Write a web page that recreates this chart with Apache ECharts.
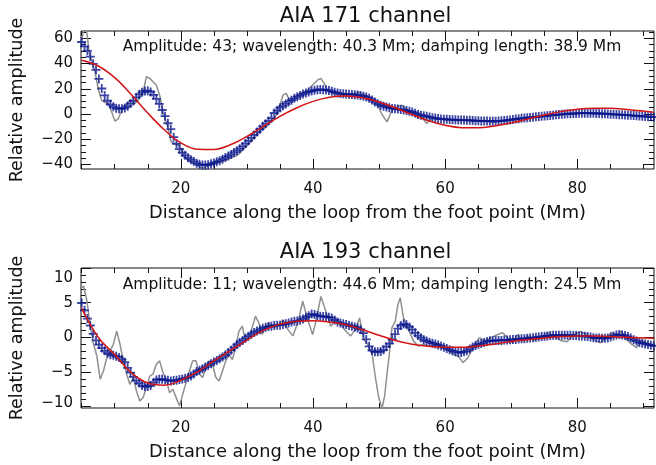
<!DOCTYPE html>
<html><head><meta charset="utf-8">
<script src="https://cdn.jsdelivr.net/npm/echarts@6/dist/echarts.min.js"></script>
<style>html,body{margin:0;padding:0;background:#fff}#c{width:656px;height:465px}</style>
</head><body><div id="c"></div>
<script>
// ---------- texts ----------
const panelTitles = ['AIA 171 channel', 'AIA 193 channel'];
const fitNotes = [
  'Amplitude: 43; wavelength: 40.3 Mm; damping length: 38.9 Mm',
  'Amplitude: 11; wavelength: 44.6 Mm; damping length: 24.5 Mm'
];
const xAxisName = 'Distance along the loop from the foot point (Mm)';
const yAxisName = 'Relative amplitude';

// ---------- axes ----------
const xRange = [4.9, 91.6];
const xMajorTicks = [20, 40, 60, 80];
const xMinorTicks = [5, 10, 15, 25, 30, 35, 45, 50, 55, 65, 70, 75, 85, 90];
const yRange171 = [-43.5, 65.7];
const yMajor171 = [-40, -20, 0, 20, 40, 60];
const yMinor171 = [-35, -30, -25, -15, -10, -5, 5, 10, 15, 25, 30, 35, 45, 50, 55, 65];
const yRange193 = [-10.2, 10.0];
const yMajor193 = [-10, -5, 0, 5, 10];
const yMinor193 = [-9, -8, -7, -6, -4, -3, -2, -1, 1, 2, 3, 4, 6, 7, 8, 9];

// ---------- smoothed data (blue +), sampled every 0.435 Mm from 5.0 Mm ----------
const sampleStart = 5.0, sampleStep = 0.435;
const blue171 = [
  57, 53.5, 50, 45.5, 39.7, 35, 27.8, 20.2, 14.7, 10.5,
  7.5, 5.8, 4.6, 4.1, 4.2, 4.8, 6.2, 8.3, 10.4, 13.1,
  15.6, 17.2, 18.3, 18.5, 17.5, 15.2, 12, 8, 3.2, -1.7,
  -7.3, -12, -18.3, -23.5, -27.8, -30.5, -32.7, -34.6, -36.1, -37.5,
  -38.9, -39.8, -40.3, -40.4, -40.1, -39.4, -38.7, -37.8, -36.9, -35.7,
  -34.4, -33.3, -32, -30.4, -29, -27.4, -25.6, -23.4, -21.2, -18.8,
  -16.5, -14.2, -12, -9.7, -7.6, -5.5, -3.3, 0.8, 2.7, 5,
  6.5, 8, 9.6, 11, 12.4, 13.7, 14.7, 15.8, 16.7, 17.5,
  18.2, 18.8, 19.2, 19.4, 19.3, 19, 18.6, 18, 17.3, 16.7,
  16.2, 16, 15.8, 15.7, 15.5, 15.3, 15, 14.6, 14.1, 13.4,
  12.4, 11.1, 9.6, 8.1, 7, 6.2, 5.5, 4.9, 4.4, 4.1,
  3.9, 3.6, 3.2, 2.7, 2.2, 1.6, 0.7, -0.3, -0.9, -1.3,
  -1.8, -2.4, -2.9, -3.2, -3.6, -3.9, -4.1, -4.2, -4.4, -4.5,
  -4.6, -4.7, -4.8, -4.8, -4.9, -5, -5.1, -5.3, -5.4, -5.5,
  -5.6, -5.6, -5.7, -5.7, -5.7, -5.6, -5.4, -5.2, -5, -4.7,
  -4.3, -4, -3.7, -3.4, -3.2, -2.9, -2.7, -2.5, -2.2, -2,
  -1.8, -1.6, -1.4, -1.1, -0.9, -0.6, -0.4, -0.2, 0, 0.2,
  0.3, 0.4, 0.5, 0.6, 0.7, 0.7, 0.7, 0.6, 0.6, 0.5,
  0.4, 0.3, 0.2, 0.1, -0.1, -0.2, -0.3, -0.5, -0.6, -0.7,
  -0.9, -1, -1.2, -1.4, -1.6, -1.8, -1.9, -2.1, -2.2, -2.4
];
const blue193 = [
  4.95, 3.9, 2.7, 1.7, 0.5, -0.45, -1.05, -1.55, -1.95, -2.3,
  -2.5, -2.6, -2.75, -2.9, -3.2, -3.6, -4.4, -5.1, -5.7, -6.25,
  -6.6, -6.95, -7.1, -7.1, -6.95, -6.5, -6.15, -6.05, -6.05, -6.15,
  -6.2, -6.3, -6.25, -6.2, -6.1, -6, -5.9, -5.8, -5.6, -5.3,
  -4.95, -4.75, -4.55, -4.3, -4.05, -3.8, -3.55, -3.35, -3.1, -2.85,
  -2.55, -2.2, -1.85, -1.45, -1.05, -0.75, -0.45, -0.15, 0.15, 0.45,
  0.7, 0.9, 1.1, 1.3, 1.45, 1.55, 1.6, 1.7, 1.75, 1.75,
  1.85, 1.95, 2.05, 2.2, 2.3, 2.35, 2.45, 2.65, 2.9, 3.1,
  3.35, 3.3, 3.15, 3.05, 3, 2.95, 2.9, 2.8, 2.5, 2.2,
  2.05, 1.95, 1.85, 1.7, 1.6, 1.5, 1.35, 1.15, 0.6, -0.3,
  -1.3, -1.9, -2.1, -2.1, -2.05, -1.8, -1.35, -0.9, -0.3, 0.45,
  1.25, 1.7, 1.95, 1.8, 1.5, 1.1, 0.65, 0.25, -0.05, -0.35,
  -0.55, -0.7, -0.85, -0.95, -1.1, -1.25, -1.45, -1.6, -1.8, -1.95,
  -2.1, -2.2, -2.2, -2.1, -1.95, -1.7, -1.4, -1.2, -1.0, -0.9,
  -0.75, -0.6, -0.5, -0.5, -0.45, -0.45, -0.45, -0.4, -0.4, -0.35,
  -0.3, -0.3, -0.25, -0.2, -0.2, -0.15, -0.1, -0.05, 0, 0.05,
  0.1, 0.15, 0.2, 0.25, 0.3, 0.3, 0.3, 0.3, 0.3, 0.3,
  0.3, 0.25, 0.25, 0.2, 0.2, 0.15, 0.1, 0.05, -0.05, -0.1,
  -0.1, -0.15, -0.15, -0.1, 0.05, 0.2, 0.35, 0.4, 0.35, 0.25,
  0.1, -0.1, -0.35, -0.55, -0.75, -0.85, -0.95, -1.05, -1.15, -1.25
];

// ---------- observed data (grey line), [distance, value] ----------
const grey171 = [
  [5.0,58],[5.3,67],[5.6,70],[5.85,62],[6.1,50],[6.5,42],[7.0,34],[7.5,20],[8.0,11],[8.55,9.1],
  [9.05,8.3],[9.55,1.7],[10.05,-5.7],[10.55,-3.6],[11.05,3],[11.55,5.7],[12.05,9.7],[12.55,11],[13.05,8.3],[13.55,11],
  [14.3,17.6],[14.8,29.5],[15.3,28.2],[15.8,25.5],[16.3,22.9],[16.8,14.9],[17.3,1.7],[17.95,-8.9],[18.55,-22.1],[19.3,-24.2],
  [19.8,-24.7],[20.55,-34],[21.55,-38],[22.55,-40.6],[23.3,-43.3],[24.05,-41.1],[25.55,-38],[27.05,-36.1],[28.55,-32.7],[29.55,-27.4],
  [30.55,-22.1],[31.55,-15.5],[32.55,-11.5],[33.55,-6.2],[34.45,-1],[34.95,5.7],[35.45,14.9],[35.95,16.3],[36.45,11],[36.95,11],
  [37.7,14.9],[38.45,17.1],[39.2,18.9],[39.95,22.9],[40.7,26.9],[41.2,28.2],[41.7,24.2],[42.2,18.9],[42.95,16.3],[43.95,15.5],
  [44.95,14.9],[45.95,15.7],[46.95,17.1],[47.95,14.9],[48.95,12.3],[49.7,8.3],[50.45,-0.4],[51.2,-6.2],[51.95,3],[52.7,5.7],
  [53.45,7],[54.2,3.6],[54.95,1.7],[55.95,-0.4],[56.7,-3.6],[57.2,-7.5],[57.95,-3.6],[58.95,-4.1],[59.95,-4.4],[60.95,-4.9],
  [61.95,-5.2],[63.45,-5.2],[64.5,-5.6],[66,-5.2],[67.5,-6.1],[69,-5.0],[70.5,-4.6],[72,-3.0],[73.5,-2.7],[75,-1.2],
  [76.5,-1.0],[78,0.3],[79.5,0.1],[81,1.0],[82.5,0.4],[84,0.5],[85.5,-0.5],[87,-0.3],[88.5,-1.4],[90,-1.6],[91.6,-2.6]
];
const grey193 = [
  [4.95,7.1],[5.3,7.4],[5.8,5.2],[6.3,1.6],[6.8,-1.0],[7.3,-2.7],[7.8,-6.05],[8.3,-4.85],[8.8,-2.95],[9.3,-2.0],
  [9.8,-1.0],[10.3,0.9],[10.8,-1.0],[11.3,-3.4],[11.8,-5.3],[12.3,-6.8],[12.8,-5.8],[13.3,-7.75],[13.8,-9.2],[14.3,-8.7],
  [14.8,-7.25],[15.3,-5.6],[15.8,-5.3],[16.3,-3.9],[16.8,-3.4],[17.3,-5.1],[17.8,-6.05],[18.3,-8.0],[18.8,-7.5],[19.3,-8.7],
  [19.8,-9.9],[20.3,-8.2],[20.8,-6.5],[21.3,-4.85],[21.8,-3.4],[22.3,-3.4],[22.8,-5.3],[23.3,-5.8],[23.8,-4.4],[24.3,-3.4],
  [24.8,-3.9],[25.3,-5.8],[25.8,-6.3],[26.3,-4.85],[26.8,-3.4],[27.3,-2.5],[27.8,-3.2],[28.3,-1.5],[28.8,0.9],[29.3,1.6],
  [29.8,-0.55],[30.3,-0.05],[30.8,1.4],[31.3,3.05],[31.8,2.1],[32.3,0.4],[32.8,1.4],[33.3,2.1],[33.8,1.4],[34.7,1.6],
  [35.45,2.55],[36.2,1.15],[36.95,0.2],[37.7,2.1],[38.45,5.2],[39.2,2.55],[39.95,0.4],[40.45,2.3],[41.2,5.9],[41.95,3.75],
  [42.7,1.6],[43.45,2.55],[44.2,1.85],[44.95,0.9],[45.7,0.2],[46.45,1.15],[47.05,2.8],[47.7,-0.3],[48.45,-1.25],[48.95,-2.45],
  [49.45,-5.8],[49.95,-8.7],[50.45,-10.2],[50.85,-8.45],[51.2,-5.3],[51.55,-2.45],[51.95,1.4],[52.45,2.3],[52.85,4.7],[53.2,5.7],
  [53.7,2.8],[54.45,1.15],[55.2,-0.55],[55.95,-1.25],[56.7,-1.0],[57.45,-1.25],[58.2,-1.15],[58.95,-1.0],[59.7,-1.5],[60.45,-1.75],
  [61.2,-2.45],[61.95,-2.7],[62.7,-3.65],[63.45,-2.95],[64.45,-1.0],[65.2,-0.05],[65.95,-0.55],[66.95,-0.05],[67.95,0.4],[68.7,0.65],
  [69.45,-0.05],[70.2,-0.8],[70.95,0.4],[71.7,-0.55],[72.45,0.2],[73.45,-0.45],[74.45,-0.05],[75.45,0.65],[76.45,0.2],[77.45,-0.45],
  [78.45,-0.65],[79.45,0.4],[80.45,0.8],[81.45,0.4],[82.45,-0.3],[83.45,-0.8],[84.45,-0.05],[85.2,0.65],[85.95,0.4],[86.7,0.9],
  [87.45,-0.3],[88.2,-1.0],[88.95,-1.5],[89.7,-0.45],[90.45,-0.8],[91.6,-1.25]
];

// ---------- fitted damped oscillation (red line), [distance, value] ----------
const fit171 = [
  [5,42.5],[7.5,38],[10,28.8],[12.5,15.5],[15,0.8],[17.5,-12.4],[20,-22.8],[22.5,-27.8],[25,-28],[27.5,-24.3],
  [30,-17.8],[32.5,-9.8],[35,-1.8],[37.5,4.8],[40,10],[42.5,13.3],[45,14.2],[47.5,12.8],[50,9.5],[52.5,4.8],
  [55,-0.4],[57.5,-5.3],[60,-8.9],[62.5,-10.8],[65,-10.9],[67.5,-9.5],[70,-7],[72.5,-3.9],[75,-0.8],[77.5,1.9],
  [80,3.8],[82.5,4.5],[85,4.5],[87.5,3.6],[90,2.3],[91.6,1.5]
];
const fit193 = [
  [5,4.2],[7.5,0],[10,-2.5],[12.5,-5.1],[15,-6.6],[17.5,-6.9],[20,-6.2],[22.5,-5],[25,-3.4],[27.5,-1.9],
  [30,-0.4],[32.5,1],[35,1.9],[37.5,2.3],[40,2.4],[42.5,2.2],[45,1.8],[47.5,1.1],[50,0.3],[52.5,-0.45],
  [55,-1],[57.5,-1.3],[60,-1.45],[62.5,-1.45],[65,-1.25],[67.5,-0.95],[70,-0.6],[72.5,-0.35],[75,-0.1],[77.5,0.1],
  [80,0.2],[82.5,0.2],[85,0.1],[87.5,0],[90,-0.1],[91.6,-0.15]
];

// ---------- build chart ----------
const FONT = 'DejaVu Sans';
const INK = '#111';
const pairsFromSamples = vals => vals.map((v, i) => [sampleStart + i * sampleStep, v]);
const minusFmt = v => String(v).replace('-', '\u2212');

const grids = [
  { left: 77, top: 31, width: 577, height: 138 },
  { left: 77, top: 268, width: 577, height: 140 }
];

function tick(len, values) {
  return { show: true, inside: true, length: len, customValues: values, lineStyle: { color: INK, width: 1 } };
}
const noLine = { show: false, onZero: false };
function xAxesFor(gi) {
  const base = { type: 'value', gridIndex: gi, min: xRange[0], max: xRange[1],
    axisLine: noLine, splitLine: { show: false } };
  return [
    Object.assign({}, base, { position: 'bottom', axisTick: tick(10, xMajorTicks),
      axisLabel: { customValues: xMajorTicks, fontSize: 15, color: INK, fontFamily: FONT, margin: 13 },
      name: xAxisName, nameLocation: 'middle', nameGap: 35,
      nameTextStyle: { fontSize: 17.8, color: INK, fontFamily: FONT } }),
    Object.assign({}, base, { position: 'bottom', axisTick: tick(5, xMinorTicks), axisLabel: { show: false } }),
    Object.assign({}, base, { position: 'top', axisTick: tick(10, xMajorTicks), axisLabel: { show: false } }),
    Object.assign({}, base, { position: 'top', axisTick: tick(5, xMinorTicks), axisLabel: { show: false } })
  ];
}
function yAxesFor(gi, range, major, minor, alignEnds) {
  const base = { type: 'value', gridIndex: gi, min: range[0], max: range[1],
    axisLine: noLine, splitLine: { show: false } };
  const label = { customValues: major, fontSize: 15, lineHeight: 8, color: INK, fontFamily: FONT, margin: 8,
    padding: [6, 0, 0, 0], formatter: minusFmt };
  if (alignEnds) { label.verticalAlignMaxLabel = 'top'; label.verticalAlignMinLabel = 'bottom'; }
  return [
    Object.assign({}, base, { position: 'left', axisTick: tick(10, major), axisLabel: label,
      name: yAxisName, nameLocation: 'middle', nameGap: 55,
      nameTextStyle: { fontSize: 17.5, color: INK, fontFamily: FONT } }),
    Object.assign({}, base, { position: 'left', axisTick: tick(5, minor), axisLabel: { show: false } }),
    Object.assign({}, base, { position: 'right', axisTick: tick(10, major), axisLabel: { show: false } }),
    Object.assign({}, base, { position: 'right', axisTick: tick(5, minor), axisLabel: { show: false } })
  ];
}

const PLUS = 'path://M4,0H6V4H10V6H6V10H4V6H0V4H4Z';
function seriesFor(gi, grey, blue, fit) {
  const ax = { xAxisIndex: gi * 4, yAxisIndex: gi * 4 };
  return [
    Object.assign({ type: 'line', data: grey, showSymbol: false, symbol: 'none',
      lineStyle: { color: '#8f8f8f', width: 1.5 }, z: 2 }, ax),
    Object.assign({ type: 'scatter', data: pairsFromSamples(blue), symbol: PLUS, symbolSize: 9,
      itemStyle: { color: '#0a168c' }, z: 3 }, ax),
    Object.assign({ type: 'line', data: fit, showSymbol: false, symbol: 'none', smooth: 0.4,
      lineStyle: { color: '#d41414', width: 1.5 }, z: 4 }, ax)
  ];
}

const plotCenterX = 77 + 577 / 2;
const option = {
  animation: false,
  backgroundColor: '#fff',
  grid: grids.map(g => Object.assign({ show: true, borderColor: INK, borderWidth: 1, containLabel: false }, g)),
  xAxis: [].concat(xAxesFor(0), xAxesFor(1)),
  yAxis: [].concat(yAxesFor(0, yRange171, yMajor171, yMinor171, false),
                   yAxesFor(1, yRange193, yMajor193, yMinor193, true)),
  graphic: [
    { type: 'text', x: plotCenterX, y: 17, style: { text: panelTitles[0], fontSize: 21, fontFamily: FONT, fill: INK, textAlign: 'center', textVerticalAlign: 'middle' } },
    { type: 'text', x: plotCenterX, y: 253, style: { text: panelTitles[1], fontSize: 21, fontFamily: FONT, fill: INK, textAlign: 'center', textVerticalAlign: 'middle' } },
    { type: 'text', x: 372, y: 47, style: { text: fitNotes[0], fontSize: 15.5, fontFamily: FONT, fill: INK, textAlign: 'center', textVerticalAlign: 'middle' } },
    { type: 'text', x: 372, y: 285, style: { text: fitNotes[1], fontSize: 15.5, fontFamily: FONT, fill: INK, textAlign: 'center', textVerticalAlign: 'middle' } }
  ],
  series: [].concat(seriesFor(0, grey171, blue171, fit171), seriesFor(1, grey193, blue193, fit193))
};

const chart = echarts.init(document.getElementById('c'), null, { renderer: 'canvas' });
chart.setOption(option);
</script></body></html>
